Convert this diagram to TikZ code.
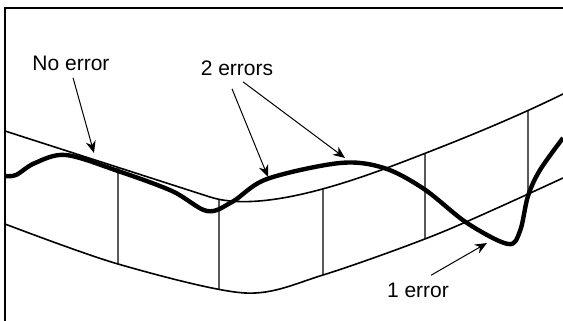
\documentclass[tikz,border=0pt]{standalone}
\usepackage{fontspec}
\setmainfont{Liberation Sans}
\usetikzlibrary{arrows.meta, positioning, calc, intersections}
\tikzset{
  frame line/.style={line width=0.6pt},
  band line/.style={line width=0.8pt},
  cell line/.style={line width=0.55pt},
  signal/.style={line width=2.2pt},
  lbl/.style={font=\fontsize{10.5}{12}\selectfont, inner sep=1pt},
  arr/.style={-{Stealth[length=6pt, width=5pt]}, line width=0.5pt},
}

\begin{document}
\begin{tikzpicture}[x=0.5pt, y=-0.5pt]
  \useasboundingbox (0,0) rectangle (563,321);

  % Frame
  \draw[frame line] (5,321) -- (5,8) -- (563,8);

  % Band edges
  \draw[band line, name path=upper] (5,131) -- (210,197)
    .. controls (260,213) and (345,184) .. (400,163)
    .. controls (455,142) and (510,120) .. (563,94);
  \draw[band line, name path=lower] plot[smooth, tension=0.5] coordinates {(5,224) (118,264) (245,293) (323,275) (440,233) (563,178)};

  % Cells
  \foreach \x in {118, 219, 323, 425, 528} {
    \path[name path=cut] (\x,60) -- (\x,315);
    \draw[cell line, name intersections={of=cut and upper, name=a}, name intersections={of=cut and lower, name=b}] (a-1) -- (b-1);
  }

  % Signal
  \draw[signal] plot[smooth, tension=0.55] coordinates {(5,176) (16,175) (35,163) (66,155) (118,171) (172,191) (207,211) (232,202) (267,179) (340,163) (384,168) (424,189) (467,223) (508,244) (520,231) (528,196) (540,170) (563,138)};

  % Tips
  \coordinate (tNo) at (94,153);
  \coordinate (tTwoA) at (268,177);
  \coordinate (tTwoB) at (345,158);
  \coordinate (tOne) at (487,243);

  % Labels
  \node[lbl] (noerr) at (71,63) {No error};
  \node[lbl] (twoerr) at (237,68) {2 errors};
  \node[lbl] (oneerr) at (418,290) {1 error};

  % Arrows
  \draw[arr] ($(noerr.south)+(2,5)$) -- (tNo);
  \draw[arr] ($(twoerr.south)+(-5,11)$) -- (tTwoA);
  \draw[arr] ($(twoerr.south)+(6,4)$) -- (tTwoB);
  \draw[arr] ($(oneerr.north)+(13,-5)$) -- (tOne);
\end{tikzpicture}
\end{document}
